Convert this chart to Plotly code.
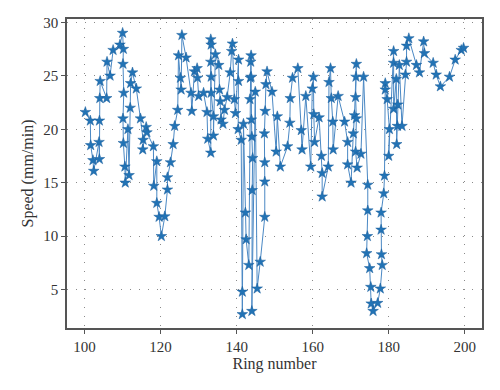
import plotly.graph_objects as go

ring = [
    100.2, 101.5, 101.6, 102.2, 102.4, 103.8, 103.9, 103.9, 104.0, 104.1,
    105.8, 105.9, 106.7, 107.5, 109.3, 110.0, 110.2, 110.1, 110.3, 110.1,
    110.2, 110.6, 110.7, 111.4, 111.7, 112.0, 112.1, 112.6, 113.6, 114.7,
    115.4, 115.3, 116.2, 116.4, 118.1, 118.2, 119.0, 119.0, 119.6, 120.2,
    121.1, 121.8, 121.8, 122.6, 123.3, 123.7, 124.5, 124.7, 125.2, 125.4,
    125.6, 126.7, 128.0, 128.2, 128.9, 129.6, 129.7, 130.0, 131.3, 132.2,
    132.4, 133.2, 133.2, 133.3, 133.2, 133.3, 133.3, 133.9, 133.9, 134.4,
    135.3, 135.5, 135.7, 135.9, 136.4, 136.8, 137.5, 138.3, 138.7, 138.9,
    139.4, 139.7, 140.5, 140.5, 140.4, 141.2, 141.5, 141.5, 141.8, 142.3,
    142.5, 143.2, 143.5, 143.6, 143.7, 143.8, 143.8, 143.9, 144.0, 144.2,
    144.1, 144.0, 144.9, 145.4, 146.2, 147.4, 147.4, 147.4, 147.3, 147.5,
    147.7, 148.0, 149.3, 150.4, 150.7, 151.5, 153.4, 154.0, 154.1, 154.7,
    156.1, 157.0, 157.2, 158.2, 159.5, 159.9, 160.2, 160.3, 160.5, 161.7,
    162.3, 162.5, 162.5, 164.1, 164.3, 164.7, 164.9, 165.3, 165.4, 166.7,
    168.4, 169.2, 169.2, 170.1, 170.7, 171.0, 171.5, 171.4, 171.3, 171.5,
    171.3, 171.7, 172.7, 173.4, 174.5, 174.5, 174.4, 174.2, 175.0, 175.3,
    175.4, 175.9, 177.1, 177.8, 178.3, 178.1, 178.0, 178.0, 178.7, 178.9,
    179.1, 179.1, 179.6, 180.2, 180.0, 181.3, 181.3, 181.3, 182.0, 182.1,
    182.3, 182.4, 182.8, 183.5, 184.4, 184.7, 184.7, 185.3, 187.3, 188.1,
    189.2, 189.4, 191.7, 192.5, 193.6, 196.0, 197.5, 199.1, 199.7,
]

speed = [
    21.6, 20.8, 18.5, 17.1, 16.1, 18.8, 17.2, 20.8, 22.9, 24.5,
    22.9, 26.3, 25.0, 27.4, 27.9, 29.0, 27.5, 26.1, 23.4, 21.0,
    18.7, 16.5, 15.0, 20.0, 15.7, 22.0, 24.3, 25.3, 23.8, 21.0,
    19.0, 18.1, 20.2, 19.7, 18.4, 14.7, 17.0, 13.1, 11.8, 10.0,
    11.85, 14.35, 15.5, 16.9, 18.6, 20.3, 21.8, 26.9, 24.8, 23.7,
    28.8, 26.7, 23.4, 21.7, 25.4, 25.7, 24.8, 23.1, 23.4, 21.6,
    19.1, 17.8, 28.4, 27.9, 26.3, 24.9, 23.4, 21.2, 19.4, 27.0,
    26.0, 23.7, 22.6, 20.9, 20.5, 21.8, 23.0, 25.3, 27.3, 28.0,
    22.8, 21.5, 26.5, 24.5, 20.0, 19.0, 4.8, 2.7, 20.5, 12.2,
    9.7, 7.3, 22.8, 24.8, 26.3, 26.9, 24.9, 20.9, 19.3, 17.3,
    14.3, 3.0, 23.5, 5.1, 7.6, 11.8, 15.1, 16.9, 19.6, 21.7,
    24.2, 25.4, 23.5, 17.9, 21.2, 16.5, 18.4, 20.6, 22.9, 24.8,
    25.7, 19.9, 18.1, 23.1, 16.5, 23.8, 24.9, 21.4, 18.8, 21.1,
    17.5, 15.9, 13.7, 16.5, 24.4, 25.7, 22.9, 20.7, 18.1, 23.1,
    20.7, 18.8, 16.7, 15.0, 19.6, 21.3, 26.1, 24.9, 23.0, 21.0,
    17.9, 16.4, 17.7, 24.9, 14.8, 12.4, 10.0, 8.4, 7.0, 5.25,
    3.7, 3.0, 3.75, 5.1, 7.3, 8.3, 10.6, 12.2, 14.0, 15.65,
    24.3, 23.7, 22.8, 20.0, 17.5, 27.3, 26.2, 21.9, 24.7, 18.6,
    20.3, 22.3, 26.0, 20.3, 25.1, 26.3, 27.8, 28.5, 26.0, 25.3,
    28.2, 27.1, 26.2, 25.1, 24.0, 24.9, 26.5, 27.4, 27.6,
]

x_ticks = [100, 120, 140, 160, 180, 200]
y_ticks = [5, 10, 15, 20, 25, 30]

fig = go.Figure()
fig.add_trace(go.Scatter(
    x=ring, y=speed, mode="lines+markers",
    line=dict(color="#4a88c4", width=1),
    marker=dict(symbol="star", size=8, color="#2273b5",
                line=dict(color="#1a5f9c", width=0.5)),
    showlegend=False,
))

axis_common = dict(
    showgrid=True, gridcolor="#8a8a8a", griddash="1px,8px", gridwidth=1.2,
    showline=True, linecolor="#555555", linewidth=1.5, mirror=True,
    ticks="outside", ticklen=4, tickcolor="#555555",
    zeroline=False, automargin=False,
    tickfont=dict(family="Liberation Serif", size=15, color="#333333"),
)

fig.update_layout(
    width=500, height=390,
    margin=dict(l=59, r=26, t=11, b=70),
    paper_bgcolor="white", plot_bgcolor="white",
    xaxis=dict(range=[95.37, 204.55], tickvals=x_ticks,
               title=dict(text="Ring number", standoff=4,
                          font=dict(family="Liberation Serif", size=16, color="#333333")),
               **axis_common),
    yaxis=dict(range=[1.42, 30.31], tickvals=y_ticks,
               title=dict(text="Speed (mm/min)", standoff=6,
                          font=dict(family="Liberation Serif", size=16, color="#333333")),
               **axis_common),
)

fig.write_html("out.html")
